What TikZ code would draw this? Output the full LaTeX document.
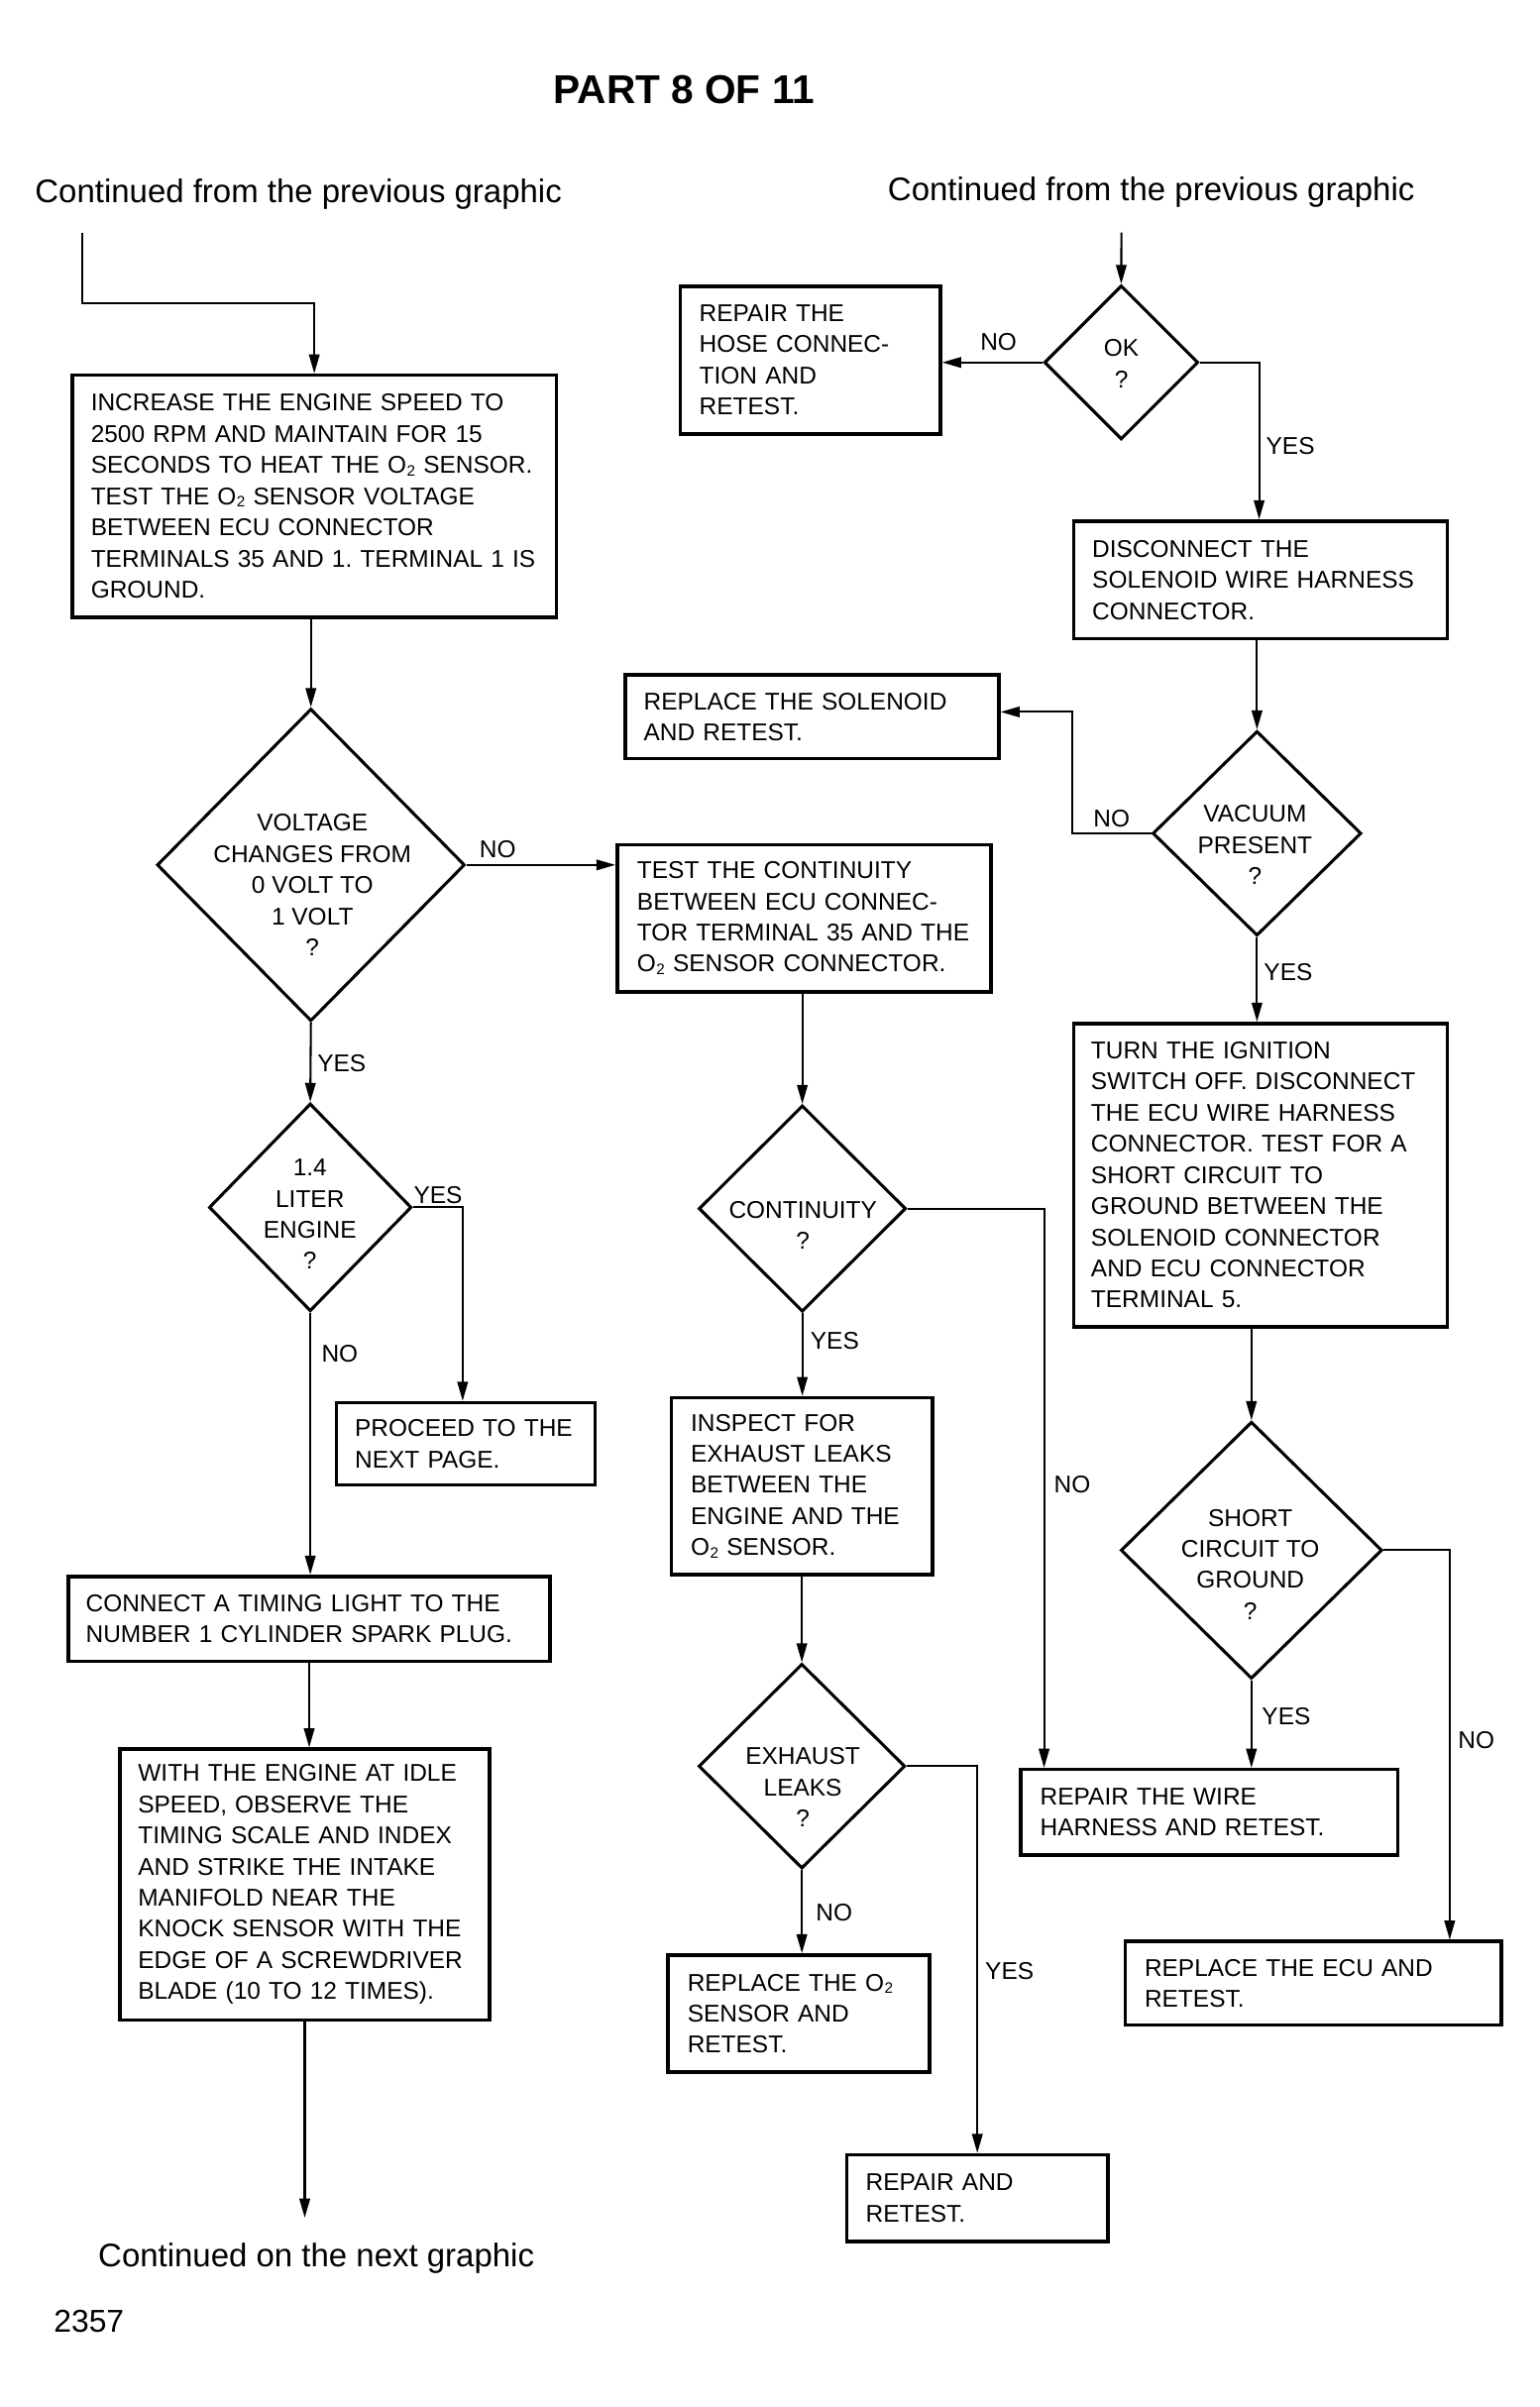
\documentclass[tikz,border=0pt]{standalone}
\usepackage{fontspec}
\setmainfont{Liberation Sans}
\usetikzlibrary{arrows.meta,shapes.geometric,calc}
\newcommand{\Otwo}{O\kern0.2pt\raisebox{-0.2ex}{\fontsize{7}{7}\selectfont 2}}
\begin{document}
\frenchspacing
\begin{tikzpicture}[x=0.25mm,y=-0.25mm,
  box/.style={draw, line width=1.6pt, rectangle, align=left, inner ysep=0pt,
    font=\fontsize{11.2}{14.4}\selectfont},
  dia/.style={draw, line width=1.4pt, diamond, inner sep=0pt},
  dtext/.style={align=center, inner sep=0pt, font=\fontsize{11.2}{14.4}\selectfont},
  lbl/.style={inner sep=0pt, font=\fontsize{11.2}{13}\selectfont},
  big/.style={inner sep=0pt, anchor=base, font=\fontsize{15.1}{18}\selectfont},
  arr/.style={line width=0.95pt, -{Triangle[length=3.1mm,width=1.7mm]}},
  ln/.style={line width=0.95pt}]
\useasboundingbox (0,0) rectangle (1000,1564);
\fill[white] (0,0) rectangle (1000,1564);

% titles
\node[inner sep=0pt, anchor=base, font=\bfseries\fontsize{18.6}{20}\selectfont] (title) at (444.5,67.6) {PART 8 OF 11};
\node[big] (contL) at (193.9,131.8) {Continued from the previous graphic};
\node[big] (contR) at (748,130.5) {Continued from the previous graphic};
\node[big] (contN) at (205.5,1472.7) {Continued on the next graphic};
\node[inner sep=0pt, anchor=base, font=\fontsize{14.6}{16}\selectfont] (num) at (57.8,1515.3) {2357};

% boxes
\node[box, minimum width=78.6mm, minimum height=39.3mm, text width=72.55mm, inner xsep=3.03mm] (b1) at (204.2,322.4)
 {INCREASE THE ENGINE SPEED TO\\2500 RPM AND MAINTAIN FOR 15\\SECONDS TO HEAT THE \Otwo{} SENSOR.\\TEST THE \Otwo{} SENSOR VOLTAGE\\BETWEEN ECU CONNECTOR\\TERMINALS 35 AND 1. TERMINAL 1 IS\\GROUND.};
\node[box, minimum width=42.25mm, minimum height=24mm, text width=36.05mm, inner xsep=3.1mm] (hose) at (526.5,234)
 {REPAIR THE\\HOSE CONNEC-\\TION AND\\RETEST.};
\node[box, minimum width=60.7mm, minimum height=19.1mm, text width=54.6mm, inner xsep=3.05mm] (disc) at (818.9,376.8)
 {DISCONNECT THE\\SOLENOID WIRE HARNESS\\CONNECTOR.};
\node[box, minimum width=60.7mm, minimum height=13.6mm, text width=54.64mm, inner xsep=3.03mm] (sol) at (527.6,465.75)
 {REPLACE THE SOLENOID\\AND RETEST.};
\node[box, minimum width=60.7mm, minimum height=23.9mm, text width=54.2mm, inner xsep=3.25mm] (test) at (522.4,596.6)
 {TEST THE CONTINUITY\\BETWEEN ECU CONNEC-\\TOR TERMINAL 35 AND THE\\\Otwo{} SENSOR CONNECTOR.};
\node[box, minimum width=60.7mm, minimum height=49.25mm, text width=55mm, inner xsep=2.85mm] (turn) at (818.9,763.5)
 {TURN THE IGNITION\\SWITCH OFF. DISCONNECT\\THE ECU WIRE HARNESS\\CONNECTOR. TEST FOR A\\SHORT CIRCUIT TO\\GROUND BETWEEN THE\\SOLENOID CONNECTOR\\AND ECU CONNECTOR\\TERMINAL 5.};
\node[box, minimum width=42.05mm, minimum height=13.4mm, text width=36mm, inner xsep=3.02mm] (proceed) at (302.6,938.2)
 {PROCEED TO THE\\NEXT PAGE.};
\node[box, minimum width=42.4mm, minimum height=28.7mm, text width=36.05mm, inner xsep=3.17mm] (inspect) at (521,965.6)
 {INSPECT FOR\\EXHAUST LEAKS\\BETWEEN THE\\ENGINE AND THE\\\Otwo{} SENSOR.};
\node[box, minimum width=78.25mm, minimum height=13.75mm, text width=72.55mm, inner xsep=2.85mm] (connect) at (200.9,1051.8)
 {CONNECT A TIMING LIGHT TO THE\\NUMBER 1 CYLINDER SPARK PLUG.};
\node[box, minimum width=60.03mm, minimum height=43.98mm, text width=54.13mm, inner xsep=2.95mm] (with) at (198,1224.5)
 {WITH THE ENGINE AT IDLE\\SPEED, OBSERVE THE\\TIMING SCALE AND INDEX\\AND STRIKE THE INTAKE\\MANIFOLD NEAR THE\\KNOCK SENSOR WITH THE\\EDGE OF A SCREWDRIVER\\BLADE (10 TO 12 TIMES).};
\node[box, minimum width=61.2mm, minimum height=13.85mm, text width=54.9mm, inner xsep=3.15mm] (wire) at (785.7,1177.5)
 {REPAIR THE WIRE\\HARNESS AND RETEST.};
\node[box, minimum width=42.5mm, minimum height=19.05mm, text width=36.2mm, inner xsep=3.15mm] (otwo) at (519.1,1308.4)
 {REPLACE THE \Otwo\\SENSOR AND\\RETEST.};
\node[box, minimum width=61.1mm, minimum height=13.6mm, text width=54.85mm, inner xsep=3.12mm] (ecu) at (853.4,1288.7)
 {REPLACE THE ECU AND\\RETEST.};
\node[box, minimum width=42.4mm, minimum height=14.1mm, text width=36.25mm, inner xsep=3.07mm] (repair) at (635,1428.3)
 {REPAIR AND\\RETEST.};

% diamonds
\node[dia, minimum width=25mm, minimum height=25mm] (dok) at (728.5,235.5) {};
\node[dtext] (tok) at (728.6,236.4) {OK\\?};
\node[dia, minimum width=50mm, minimum height=50.75mm] (dvolt) at (202,562) {};
\node[dtext] (tvolt) at (203,575) {VOLTAGE\\CHANGES FROM\\0 VOLT TO\\1 VOLT\\?};
\node[dia, minimum width=32.9mm, minimum height=33.75mm] (dlit) at (201.6,784.5) {};
\node[dtext] (tlit) at (201.4,789) {1.4\\LITER\\ENGINE\\?};
\node[dia, minimum width=33.65mm, minimum height=33.5mm] (dcont) at (521.3,785.3) {};
\node[dtext] (tcont) at (521.7,796) {CONTINUITY\\?};
\node[dia, minimum width=33.9mm, minimum height=33.25mm] (dvac) at (816.7,541.5) {};
\node[dtext] (tvac) at (815.4,549) {VACUUM\\PRESENT\\?};
\node[dia, minimum width=42.45mm, minimum height=41.75mm] (dshort) at (813.1,1007.3) {};
\node[dtext] (tshort) at (812.4,1016.5) {SHORT\\CIRCUIT TO\\GROUND\\?};
\node[dia, minimum width=33.55mm, minimum height=33.25mm] (dexh) at (521,1147.6) {};
\node[dtext] (texh) at (521.6,1161.4) {EXHAUST\\LEAKS\\?};

% free ends
\coordinate (s1) at (53.6,151);
\coordinate (k1) at (53.6,196.9);
\coordinate (s2) at (728.6,151);
\coordinate (e1) at (198,1441);

% connectors left column
\draw[arr] (s1) -- (k1) -| (b1.north);
\draw[arr] (dvolt.north |- b1.south) -- (dvolt.north);
\draw[arr] (dvolt.east) -- (dvolt.east -| test.west);
\draw[arr] (dvolt.south) -- (dlit.north);
\draw[arr] (dlit.east) -| ([xshift=-0.5mm]proceed.north);
\draw[arr] (dlit.south) -- (dlit.south |- connect.north);
\draw[arr] (connect.south) -- (connect.south |- with.north);
\draw[arr] (with.south) -- (e1);

% middle column
\draw[arr] (dcont.north |- test.south) -- (dcont.north);
\draw[arr] (dcont.east) -| ([xshift=4.05mm]wire.north west);
\draw[arr] (dcont.south) -- (dcont.south |- inspect.north);
\draw[arr] (inspect.south) -- (inspect.south -| dexh.north) -- (dexh.north);
\draw[arr] (dexh.south) -- (dexh.south |- otwo.north);
\draw[arr] (dexh.east) -| (repair.north);

% right column
\draw[arr] (s2) -- (dok.north);
\draw[arr] (dok.west) -- (dok.west -| hose.east);
\draw[arr] (dok.east) -| ([xshift=-0.2mm]disc.north);
\draw[arr] (dvac.north |- disc.south) -- (dvac.north);
\draw[arr] (dvac.west) -- ++(-51.4,0) |- ([yshift=0.79mm]sol.east);
\draw[arr] (dvac.south) -- (dvac.south |- turn.north);
\draw[arr] (dshort.north |- turn.south) -- (dshort.north);
\draw[arr] (dshort.south) -- (dshort.south |- wire.north);
\draw[arr] (dshort.east) -| ([xshift=-8.7mm]ecu.north east);

% branch labels
\node[lbl] (l1) at (648.8,222) {NO};
\node[lbl] (l2) at (838.4,289.8) {YES};
\node[lbl] (l3) at (323.4,551.6) {NO};
\node[lbl] (l4) at (222,691) {YES};
\node[lbl] (l5) at (284.6,776.4) {YES};
\node[lbl] (l6) at (220.8,879.6) {NO};
\node[lbl] (l7) at (542.4,871.3) {YES};
\node[lbl] (l8) at (696.7,964.6) {NO};
\node[lbl] (l9) at (722.3,531.9) {NO};
\node[lbl] (l10) at (837,632) {YES};
\node[lbl] (l11) at (835.7,1115.2) {YES};
\node[lbl] (l12) at (959.2,1130.7) {NO};
\node[lbl] (l13) at (542,1242.8) {NO};
\node[lbl] (l14) at (655.9,1280.5) {YES};
\end{tikzpicture}
\end{document}
